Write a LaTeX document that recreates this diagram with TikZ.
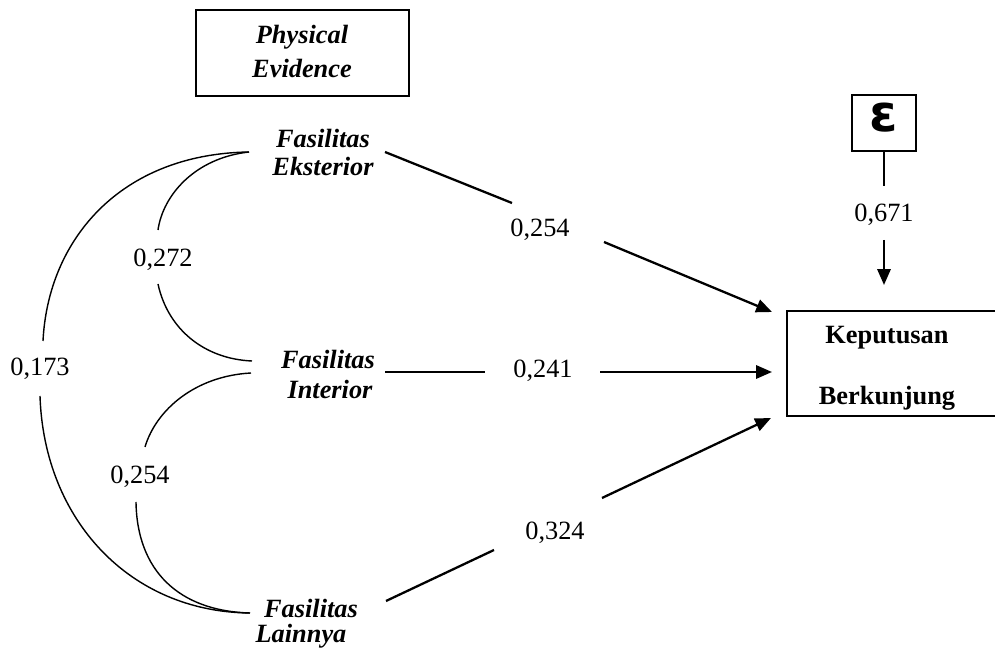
\documentclass[tikz,border=0pt]{standalone}
\usepackage{fontspec}
\setmainfont{Liberation Serif}
\newfontfamily\epsfont{DejaVu Sans}
\usetikzlibrary{arrows.meta}
\tikzset{
  px/.style={x=0.02cm,y=-0.02cm},
  lbl/.style={font=\fontsize{15}{17}\selectfont, inner sep=0pt},
  var/.style={font=\fontsize{15}{18}\selectfont\bfseries\itshape, align=center, inner sep=0pt},
  path/.style={line width=1.3pt},
  patharr/.style={line width=1.3pt, -{Triangle[length=9pt,width=7.5pt]}},
  corr/.style={line width=0.8pt},
  boxline/.style={line width=1pt},
}
\begin{document}
\begin{tikzpicture}[px]
\useasboundingbox (0,0) rectangle (995,651);
% Physical Evidence box
\draw[boxline] (196,10) rectangle (409,96);
\node[var] (pe1) at (302,37) {Physical};
\node[var] (pe2) at (302,68) {Evidence};
% variable nodes
\node[var] (ek1) at (323,138) {Fasilitas};
\node[var] (ek2) at (323,166) {Eksterior};
\node[var] (in1) at (328,359) {Fasilitas};
\node[var] (in2) at (330,389) {Interior};
\node[var] (la1) at (311,608) {Fasilitas};
\node[var] (la2) at (301,636) {Lainnya};
% Keputusan box
\draw[boxline] (997,311) -- (787,311) -- (787,416) -- (997,416);
\node[lbl, font=\fontsize{15}{17}\selectfont\bfseries] (kp1) at (887,338) {Keputusan};
\node[lbl, font=\fontsize{15}{17}\selectfont\bfseries] (kp2) at (887,398) {Berkunjung};
% epsilon box
\draw[boxline] (852,95) rectangle (916,151);
\node[inner sep=0pt, font=\epsfont\bfseries\fontsize{29}{30}\selectfont] (eps) at (884,118) {ε};
% coordinates
\coordinate (ekR) at (385,152);
\coordinate (ekL) at (249,152);
\coordinate (inR) at (385,372);
\coordinate (inLa) at (252,361);
\coordinate (inLb) at (251,373);
\coordinate (laR) at (386,601);
\coordinate (laL) at (250,613);
\coordinate (kpA) at (772,312);
\coordinate (kpB) at (772,372);
\coordinate (kpC) at (771,418);
\coordinate (epsB) at (884,151);
\coordinate (kpT) at (884,285);
% labels
\node[lbl] (l1) at (540,230) {0,254};
\node[lbl] (l2) at (543,371) {0,241};
\node[lbl] (l3) at (555,533) {0,324};
\node[lbl] (l4) at (884,215) {0,671};
\node[lbl] (c1) at (163,260) {0,272};
\node[lbl] (c2) at (40,369) {0,173};
\node[lbl] (c3) at (140,477) {0,254};
% paths
\draw[path] (ekR) -- (512,203);
\draw[patharr] (604,242) -- (kpA);
\draw[path] (inR) -- (485,372);
\draw[patharr] (600,372) -- (kpB);
\draw[path] (laR) -- (494,550);
\draw[patharr] (602,498) -- (kpC);
\draw[path] (epsB) -- (884,186);
\draw[patharr] (884,240) -- (kpT);
% correlations
\draw[corr] (ekL) .. controls (120,154) and (48,240) .. (43,341);
\draw[corr] (40,396) .. controls (44,520) and (130,612) .. (laL);
\draw[corr] (ekL) .. controls (195,158) and (163,195) .. (158,230);
\draw[corr] (158,284) .. controls (168,330) and (205,359) .. (inLa);
\draw[corr] (inLb) .. controls (195,376) and (156,410) .. (145,447);
\draw[corr] (136,502) .. controls (137,570) and (178,611) .. (laL);
\end{tikzpicture}
\end{document}
